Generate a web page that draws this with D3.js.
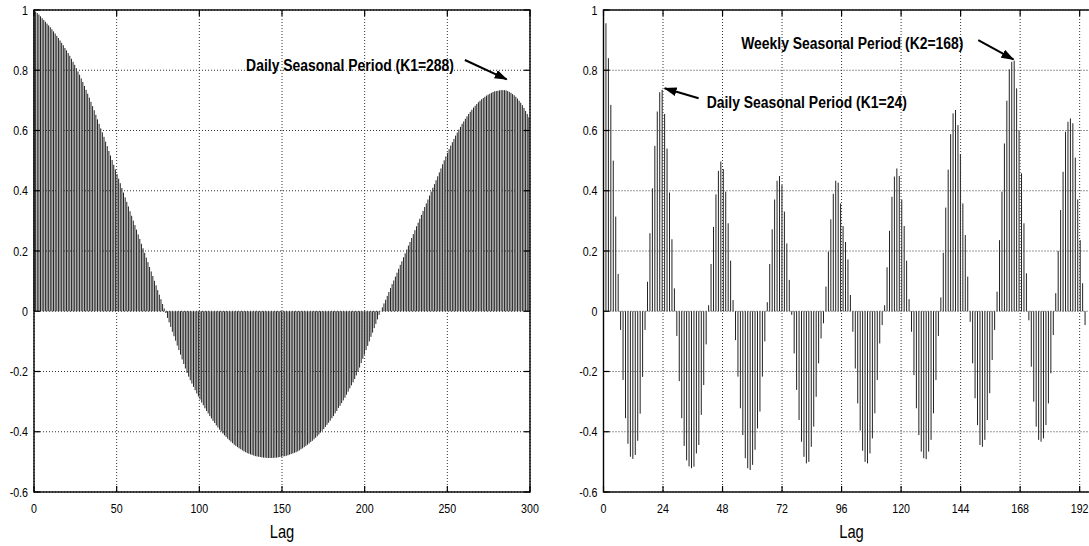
<!DOCTYPE html>
<html>
<head>
<meta charset="utf-8">
<script src="https://cdn.jsdelivr.net/npm/d3@7"></script>
<style>
  body { margin: 0; background: #fff; }
  svg { display: block; }
</style>
</head>
<body>
<div class="acf"></div>
<script>
const yTicks = [-0.6, -0.4, -0.2, 0, 0.2, 0.4, 0.6, 0.8, 1]
const leftTicks = [0, 50, 100, 150, 200, 250, 300]
const rightTicks = [0, 24, 48, 72, 96, 120, 144, 168, 192]
const axisTitle = 'Lag'

// autocorrelation, one value per lag (left: lags 0..304)
const leftAcf = [
  1.000, 0.995, 0.990, 0.985, 0.979, 0.973, 0.967, 0.961, 0.955, 0.949,
  0.943, 0.936, 0.929, 0.922, 0.914, 0.907, 0.899, 0.891, 0.883, 0.874,
  0.866, 0.857, 0.848, 0.838, 0.828, 0.818, 0.807, 0.796, 0.785, 0.773,
  0.761, 0.748, 0.735, 0.722, 0.709, 0.695, 0.681, 0.667, 0.652, 0.637,
  0.622, 0.607, 0.594, 0.579, 0.563, 0.548, 0.532, 0.517, 0.502, 0.486,
  0.471, 0.455, 0.440, 0.425, 0.409, 0.394, 0.378, 0.363, 0.348, 0.332,
  0.317, 0.301, 0.286, 0.271, 0.255, 0.240, 0.224, 0.209, 0.194, 0.178,
  0.163, 0.147, 0.132, 0.117, 0.101, 0.086, 0.070, 0.055, 0.040, 0.024,
  0.009, -0.006, -0.022, -0.037, -0.052, -0.068, -0.083, -0.098, -0.114, -0.129,
  -0.144, -0.160, -0.175, -0.190, -0.205, -0.217, -0.229, -0.240, -0.251, -0.262,
  -0.273, -0.283, -0.293, -0.303, -0.312, -0.322, -0.331, -0.339, -0.348, -0.356,
  -0.364, -0.371, -0.379, -0.386, -0.393, -0.399, -0.406, -0.412, -0.417, -0.423,
  -0.428, -0.433, -0.438, -0.443, -0.447, -0.451, -0.455, -0.458, -0.462, -0.465,
  -0.468, -0.471, -0.473, -0.475, -0.477, -0.479, -0.481, -0.482, -0.483, -0.484,
  -0.485, -0.486, -0.486, -0.487, -0.487, -0.487, -0.487, -0.487, -0.486, -0.486,
  -0.485, -0.484, -0.483, -0.482, -0.481, -0.480, -0.478, -0.476, -0.474, -0.472,
  -0.470, -0.468, -0.465, -0.462, -0.458, -0.455, -0.451, -0.447, -0.443, -0.439,
  -0.434, -0.430, -0.425, -0.420, -0.415, -0.409, -0.403, -0.397, -0.391, -0.384,
  -0.377, -0.370, -0.363, -0.355, -0.348, -0.339, -0.331, -0.321, -0.314, -0.305,
  -0.296, -0.287, -0.277, -0.267, -0.256, -0.246, -0.236, -0.225, -0.213, -0.201,
  -0.187, -0.172, -0.158, -0.144, -0.129, -0.115, -0.100, -0.085, -0.071, -0.056,
  -0.042, -0.027, -0.012, 0.001, 0.013, 0.026, 0.038, 0.051, 0.064, 0.077,
  0.090, 0.102, 0.115, 0.128, 0.141, 0.154, 0.166, 0.179, 0.192, 0.205,
  0.218, 0.230, 0.243, 0.256, 0.269, 0.282, 0.294, 0.307, 0.320, 0.333,
  0.346, 0.358, 0.371, 0.384, 0.397, 0.410, 0.422, 0.435, 0.448, 0.461,
  0.474, 0.488, 0.501, 0.514, 0.526, 0.538, 0.550, 0.561, 0.572, 0.583,
  0.593, 0.603, 0.612, 0.622, 0.630, 0.639, 0.647, 0.655, 0.662, 0.669,
  0.676, 0.682, 0.688, 0.694, 0.699, 0.704, 0.708, 0.712, 0.716, 0.719,
  0.722, 0.725, 0.728, 0.730, 0.731, 0.732, 0.733, 0.734, 0.734, 0.734,
  0.733, 0.731, 0.728, 0.725, 0.721, 0.717, 0.712, 0.706, 0.699, 0.692,
  0.684, 0.675, 0.665, 0.655, 0.644
]

// right: lags 0..197
const rightAcf = [
  1.000, 0.956, 0.840, 0.685, 0.500, 0.314, 0.124, -0.062, -0.228, -0.355,
  -0.440, -0.483, -0.490, -0.477, -0.430, -0.340, -0.218, -0.062, 0.098, 0.259,
  0.408, 0.549, 0.663, 0.727, 0.735, 0.655, 0.540, 0.394, 0.239, 0.076,
  -0.082, -0.232, -0.355, -0.447, -0.495, -0.515, -0.521, -0.516, -0.472, -0.444,
  -0.344, -0.245, -0.110, 0.020, 0.157, 0.280, 0.388, 0.466, 0.497, 0.472,
  0.397, 0.292, 0.168, 0.037, -0.096, -0.217, -0.322, -0.411, -0.488, -0.521,
  -0.527, -0.510, -0.460, -0.389, -0.333, -0.217, -0.100, 0.030, 0.157, 0.272,
  0.371, 0.433, 0.449, 0.419, 0.331, 0.225, 0.104, -0.012, -0.140, -0.261,
  -0.361, -0.433, -0.483, -0.505, -0.500, -0.450, -0.383, -0.284, -0.173, -0.090,
  -0.040, 0.082, 0.198, 0.305, 0.390, 0.433, 0.427, 0.358, 0.283, 0.230,
  0.172, 0.054, -0.068, -0.190, -0.306, -0.396, -0.463, -0.500, -0.505, -0.472,
  -0.422, -0.339, -0.228, -0.107, -0.046, 0.020, 0.146, 0.267, 0.380, 0.447,
  0.474, 0.449, 0.370, 0.283, 0.168, 0.040, -0.068, -0.212, -0.322, -0.411,
  -0.466, -0.488, -0.491, -0.466, -0.427, -0.339, -0.228, -0.082, 0.046, 0.194,
  0.344, 0.470, 0.588, 0.657, 0.668, 0.618, 0.522, 0.358, 0.253, 0.115,
  -0.035, -0.173, -0.289, -0.378, -0.444, -0.450, -0.427, -0.361, -0.272, -0.162,
  -0.062, 0.065, 0.236, 0.397, 0.557, 0.699, 0.803, 0.828, 0.832, 0.740,
  0.600, 0.458, 0.292, 0.126, -0.030, -0.184, -0.300, -0.383, -0.427, -0.433,
  -0.422, -0.378, -0.306, -0.206, -0.079, 0.060, 0.200, 0.336, 0.463, 0.596,
  0.629, 0.640, 0.624, 0.510, 0.371, 0.236, 0.093, -0.046
]

const leftNotes = ['Daily Seasonal Period (K1=288)']
const rightNotes = ['Weekly Seasonal Period (K2=168)', 'Daily Seasonal Period (K1=24)']

const width = 1089
const height = 546
const plotTop = 10
const plotBottom = 492
const squeeze = 0.82   // the original type is a narrow face

const svg = d3.select('.acf').append('svg')
  .attr('width', width)
  .attr('height', height)
  .style('background', '#fff')

svg.append('defs').append('marker')
  .attr('id', 'head')
  .attr('markerUnits', 'userSpaceOnUse')
  .attr('markerWidth', 13).attr('markerHeight', 9)
  .attr('refX', 12).attr('refY', 4.5)
  .attr('orient', 'auto')
  .append('path')
  .attr('d', 'M0,0 L13,4.5 L0,9 Z')
  .attr('fill', '#000')

const y = d3.scaleLinear().domain([-0.6, 1]).range([plotBottom, plotTop])

function narrowText (g, x, yy, str, size, weight, anchor) {
  return g.append('text')
    .attr('transform', 'translate(' + x + ',' + yy + ') scale(' + squeeze + ',1)')
    .attr('text-anchor', anchor)
    .attr('font-family', '"Liberation Sans", Arial, sans-serif')
    .attr('font-size', size)
    .attr('font-weight', weight)
    .attr('fill', '#000')
    .text(str)
}

function drawPanel (p) {
  const g = svg.append('g')
  const x = d3.scaleLinear().domain(p.domain).range([p.left, p.right])
  // stems sit on a slightly tighter spacing than the tick labels
  const xs = d3.scaleLinear().domain([0, p.stemMax]).range([p.left, p.right])

  g.selectAll('line.stem')
    .data(p.values)
    .enter()
    .append('line')
    .attr('class', 'stem')
    .attr('x1', (d, i) => xs(i))
    .attr('x2', (d, i) => xs(i))
    .attr('y1', y(0))
    .attr('y2', d => y(d))
    .attr('stroke', '#222')
    .attr('stroke-width', 1)

  // dotted grid
  g.selectAll('line.gx')
    .data(p.ticks)
    .enter()
    .append('line')
    .attr('x1', d => x(d)).attr('x2', d => x(d))
    .attr('y1', plotTop).attr('y2', plotBottom)
    .attr('stroke', '#333').attr('stroke-width', 1)
    .attr('stroke-dasharray', '1,2')
  g.selectAll('line.gy')
    .data(yTicks)
    .enter()
    .append('line')
    .attr('x1', p.left).attr('x2', p.right)
    .attr('y1', d => y(d)).attr('y2', d => y(d))
    .attr('stroke', '#333').attr('stroke-width', 1)
    .attr('stroke-dasharray', '1,2')

  // inward ticks on all four sides
  const tk = 6
  p.ticks.forEach(t => {
    g.append('line').attr('x1', x(t)).attr('x2', x(t)).attr('y1', plotBottom).attr('y2', plotBottom - tk)
      .attr('stroke', '#000').attr('stroke-width', 1.2)
    g.append('line').attr('x1', x(t)).attr('x2', x(t)).attr('y1', plotTop).attr('y2', plotTop + tk)
      .attr('stroke', '#000').attr('stroke-width', 1.2)
    narrowText(g, x(t), plotBottom + 21, t, 13, 'normal', 'middle')
  })
  yTicks.forEach(t => {
    g.append('line').attr('x1', p.left).attr('x2', p.left + tk).attr('y1', y(t)).attr('y2', y(t))
      .attr('stroke', '#000').attr('stroke-width', 1.2)
    g.append('line').attr('x1', p.right).attr('x2', p.right - tk).attr('y1', y(t)).attr('y2', y(t))
      .attr('stroke', '#000').attr('stroke-width', 1.2)
    narrowText(g, p.left - 6, y(t) + 4.5, t, 13, 'normal', 'end')
  })

  g.append('rect')
    .attr('x', p.left).attr('y', plotTop)
    .attr('width', p.right - p.left).attr('height', plotBottom - plotTop)
    .attr('fill', 'none').attr('stroke', '#000').attr('stroke-width', 1.4)

  narrowText(g, (p.left + p.right) / 2, 538, axisTitle, 18, 'normal', 'middle')

  p.notes.forEach((n, i) => {
    const a = p.anchors[i]
    narrowText(g, x(a.lag), y(a.val), n, 17, 'bold', 'start')
    g.append('line')
      .attr('x1', xs(a.from[0])).attr('y1', y(a.from[1]))
      .attr('x2', xs(a.to[0])).attr('y2', y(a.to[1]))
      .attr('stroke', '#000').attr('stroke-width', 2)
      .attr('marker-end', 'url(#head)')
  })
}

drawPanel({
  left: 34, right: 530, domain: [0, 300], stemMax: 304.7,
  ticks: leftTicks, values: leftAcf, notes: leftNotes,
  anchors: [{lag: 128.3, val: 0.799, from: [264.7, 0.834], to: [290.4, 0.77]}]
})

drawPanel({
  left: 603.5, right: 1099.5, domain: [0, 200], stemMax: 202.9,
  ticks: rightTicks, values: rightAcf, notes: rightNotes,
  anchors: [
    {lag: 55.5, val: 0.87, from: [153.3, 0.9], to: [167.7, 0.836]},
    {lag: 41.6, val: 0.674, from: [38.9, 0.707], to: [25.0, 0.74]}
  ]
})
</script>
</body>
</html>
